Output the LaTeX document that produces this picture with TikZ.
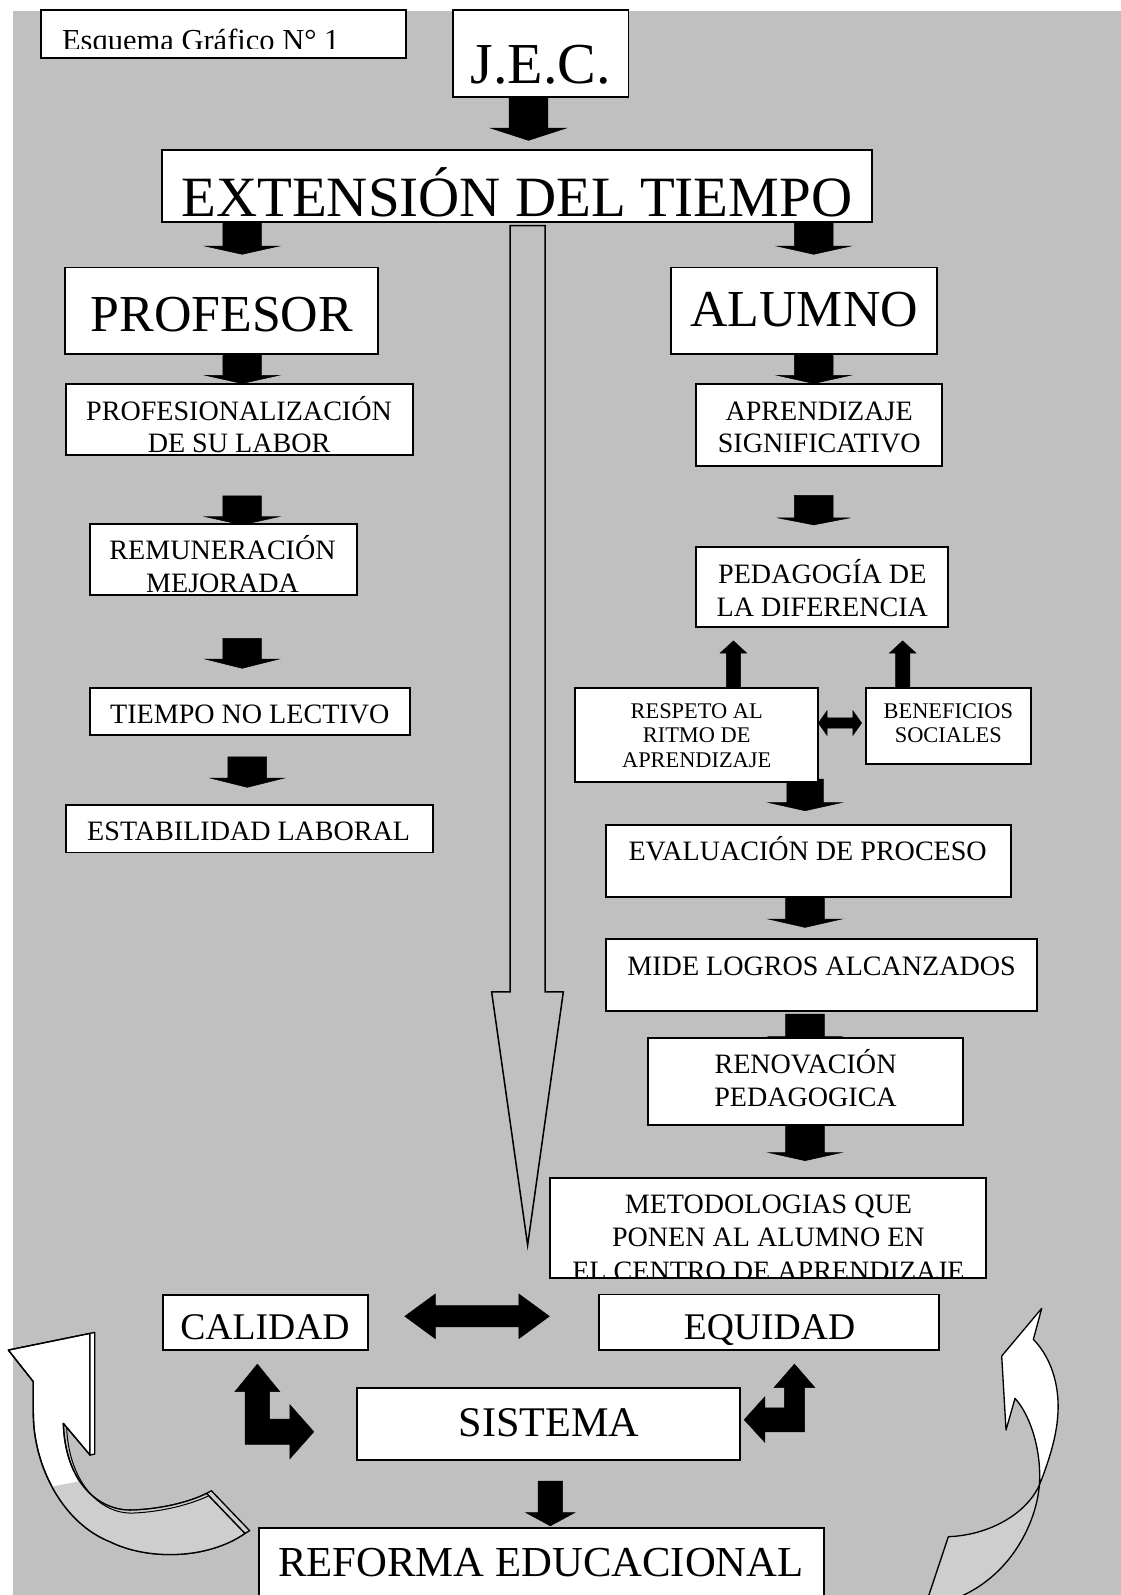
\documentclass[tikz,border=0pt]{standalone}
\usepackage{fontspec}
\setmainfont{Liberation Serif}
\usetikzlibrary{fit}
\definecolor{bggray}{RGB}{192,192,192}
\definecolor{bandgray}{RGB}{206,206,206}
\tikzset{
  box/.style={draw=black, fill=white, line width=1.8pt, inner sep=0pt, outer sep=0pt},
  lbl/.style={anchor=base, inner sep=0pt, outer sep=0pt, text=black},
  blockarrow/.style={fill=black, draw=black, line width=0.5pt, line join=miter},
  hollowarrow/.style={fill=bggray, draw=black, line width=1.5pt, line join=miter},
  curvedarrow/.style={fill=white, draw=black, line width=1.3pt, line join=round},
  bandfill/.style={fill=bandgray},
}
\newcommand{\fs}[1]{\fontsize{#1}{#1}\selectfont}
% vertical block arrow: cx, y tail, y head base, y tip, half shaft, half head
\newcommand{\vblock}[6]{\path[blockarrow] ({#1-#5},#2) -- ({#1+#5},#2) -- ({#1+#5},#3) -- ({#1+#6},#3) -- (#1,#4) -- ({#1-#6},#3) -- ({#1-#5},#3) -- cycle;}
% horizontal double block arrow: x1, x2, cy, head length, half shaft, half head
\newcommand{\hdouble}[6]{\path[blockarrow] (#1,#3) -- ({#1+#4},{#3-#6}) -- ({#1+#4},{#3-#5}) -- ({#2-#4},{#3-#5}) -- ({#2-#4},{#3-#6}) -- (#2,#3) -- ({#2-#4},{#3+#6}) -- ({#2-#4},{#3+#5}) -- ({#1+#4},{#3+#5}) -- ({#1+#4},{#3+#6}) -- cycle;}
\begin{document}
\begin{tikzpicture}[x=1pt,y=-1pt]
\useasboundingbox (0,0) rectangle (1102,1568);
\clip (0,0) rectangle (1102,1568);
\fill[white] (0,0) rectangle (1102,1568);
\fill[bggray] (13,10.8) rectangle (1102,1568);

% ---------- left curved arrow ----------
\begin{scope}[shift={(0,1258.36)}, x=0.3277pt, y=-0.3277pt]
  \def\leftarr{(25,210) -- (270,160) -- (270,525) -- (190,430) .. controls (195,600) and (290,695) .. (400,690) .. controls (490,686) and (570,665) .. (620,640) -- (735,760) .. controls (620,840) and (440,840) .. (330,785) .. controls (190,730) and (100,560) .. (100,400) -- (100,305) -- cycle}
  \path[curvedarrow] \leftarr;
  \begin{scope}
    \clip \leftarr;
    \fill[bandfill] (100,630) -- (260,600) -- (800,600) -- (800,900) -- (100,900) -- cycle;
  \end{scope}
  \path[curvedarrow, fill=none] \leftarr;
  \path[curvedarrow] (270,160) -- (284,157) -- (284,522) -- (270,525) -- cycle;
  \path[curvedarrow, fill=bandgray] (620,640) -- (634,632) -- (749,752) -- (735,760) -- cycle;
  \draw[line width=1pt] (200,442) .. controls (206,600) and (295,703) .. (400,699) .. controls (490,695) and (570,673) .. (625,648);
\end{scope}

% ---------- right curved arrow ----------
\begin{scope}[shift={(747.15,1258.36)}, x=0.3277pt, y=-0.3277pt]
  \path[curvedarrow, fill=bandgray] (838,615) .. controls (830,720) and (760,880) .. (600,950) -- (505,950) -- (565,770) .. controls (690,765) and (800,700) .. (838,615) -- cycle;
  \path[curvedarrow] (845,85) -- (820,178) .. controls (880,240) and (900,330) .. (893,410) .. controls (888,480) and (860,560) .. (838,615) .. controls (845,520) and (815,410) .. (765,355) -- (738,450) -- (725,228) -- cycle;
\end{scope}

% ---------- long hollow arrow ----------
\path[hollowarrow] (501.4,221.7) -- (535.8,221.7) -- (535.8,975) -- (553.8,975) -- (518.7,1224) -- (483.3,975) -- (501.4,975) -- cycle;

% ---------- block arrows ----------
\vblock{519.5}{95}{126}{138}{19}{37}
\vblock{238}{219}{242}{250}{19}{36}
\vblock{800}{219}{242}{250}{19}{36}
\vblock{238}{348}{369}{377}{19}{36}
\vblock{800}{348}{369}{377}{19}{36}
\vblock{238}{487.5}{508}{516}{19}{36}
\vblock{800}{487}{509}{516}{19}{36}
\vblock{238}{627.5}{648}{657}{19}{36}
\vblock{243}{744}{765}{774}{19}{36}
\vblock{791.5}{766}{789}{797}{18}{36}
\vblock{791.4}{881.5}{903.5}{911.7}{19}{36}
\vblock{791.4}{997}{1019}{1027}{19}{36}
\vblock{791.4}{1106}{1133}{1141}{19}{36}
\vblock{541}{1456}{1487}{1500}{12}{24}
\vblock{721}{677}{642}{630}{7}{13}
\vblock{887.4}{677}{642}{630}{7}{13}
\hdouble{804.5}{847}{710.8}{8.5}{5}{12}
\hdouble{398}{540}{1294}{30}{10.5}{22}
% L-shaped arrows
\path[blockarrow] (253,1341) -- (275,1368) -- (265,1368) -- (265,1395) -- (285,1395) -- (285,1381) -- (308.5,1407.5) -- (285,1434) -- (285,1420) -- (241,1420) -- (241,1368) -- (231,1368) -- cycle;
\path[blockarrow] (781,1341) -- (801,1364) -- (791,1364) -- (791,1407.5) -- (752,1407.5) -- (752,1418) -- (731.6,1395.7) -- (752,1373) -- (752,1384) -- (771,1384) -- (771,1364) -- (761,1364) -- cycle;

% ---------- boxes ----------
\node[box, fit={(40.1,9.8) (399.3,57.3)}] (esq) {};
\node[box, fit={(445.6,9.8) (617.8,95)}] (jec) {};
\node[box, fit={(159.3,147.5) (857,217.9)}] (ext) {};
\node[box, fit={(64,263) (372,348)}] (prof) {};
\node[box, fit={(660,263) (920.8,348)}] (alu) {};
\node[box, fit={(64.6,377.5) (406,447.3)}] (profes) {};
\node[box, fit={(684,377.5) (926,458)}] (apr) {};
\node[box, fit={(88.5,515.5) (350.7,585)}] (remun) {};
\node[box, fit={(684,538) (932.3,616)}] (ped) {};
\node[box, fit={(88.5,676.7) (403,722.6)}] (tiempo) {};
\node[box, fit={(565.3,676.7) (803.9,768.5)}] (resp) {};
\node[box, fit={(851.4,676.7) (1013.2,751)}] (benef) {};
\node[box, fit={(64.6,791.5) (425.7,838)}] (estab) {};
\node[box, fit={(595.7,811) (993.6,881.5)}] (eval) {};
\node[box, fit={(595.7,923.4) (1019.8,993.5)}] (mide) {};
\node[box, fit={(637.4,1020.1) (947,1106)}] (renov) {};
\node[box, fit={(541,1158.4) (969,1256.7)}] (metod) {};
\node[box, fit={(160,1273) (362,1327)}] (cal) {};
\node[box, fit={(588.8,1272.5) (923.3,1327)}] (equ) {};
\node[box, fit={(350.6,1364.2) (727.6,1435.3)}] (sis) {};
\node[box, fit={(255,1502) (810,1600)}] (ref) {};

% ---------- texts ----------
\begin{scope}
  \clip (40.1,9.8) rectangle (399.3,47.5);
  \node[lbl, anchor=base west, font=\fs{30}] (esq-t) at (61,49.5) {Esquema Gráfico N° 1};
\end{scope}
\node[lbl, font=\fs{57}] (jec-t) at (531.7,82) {J.E.C.};
\node[lbl, font=\fs{56}] (ext-t) at (508,213) {EXTENSIÓN DEL TIEMPO};
\node[lbl, font=\fs{51}] (prof-t) at (218,326) {PROFESOR};
\node[lbl, font=\fs{51}] (alu-t) at (790.5,320.5) {ALUMNO};
\begin{scope}
  \clip (profes.south west) rectangle (profes.north east);
  \node[lbl, font=\fs{27.6}] (profes-t1) at (235,412.9) {PROFESIONALIZACIÓN};
  \node[lbl, font=\fs{27.6}] (profes-t2) at (235,445) {DE SU LABOR};
\end{scope}
\begin{scope}
  \clip (remun.south west) rectangle (remun.north east);
  \node[lbl, font=\fs{27.6}] (remun-t1) at (218.8,550.5) {REMUNERACIÓN};
  \node[lbl, font=\fs{27.6}] (remun-t2) at (218.8,582.3) {MEJORADA};
\end{scope}
\node[lbl, font=\fs{27.6}] (tiempo-t) at (245.5,711.1) {TIEMPO NO LECTIVO};
\node[lbl, font=\fs{27.6}] (estab-t) at (244.5,826.5) {ESTABILIDAD LABORAL};
\node[lbl, font=\fs{27.6}] (apr-t1) at (805.3,413) {APRENDIZAJE};
\node[lbl, font=\fs{27.6}] (apr-t2) at (805.3,444.7) {SIGNIFICATIVO};
\node[lbl, font=\fs{27.6}] (ped-t1) at (808.4,573.5) {PEDAGOGÍA DE};
\node[lbl, font=\fs{27.6}] (ped-t2) at (808.4,606.2) {LA DIFERENCIA};
\node[lbl, font=\fs{22}] (resp-t1) at (684.9,706) {RESPETO AL};
\node[lbl, font=\fs{22}] (resp-t2) at (684.9,729.8) {RITMO DE};
\node[lbl, font=\fs{22}] (resp-t3) at (684.9,754.7) {APRENDIZAJE};
\node[lbl, font=\fs{22}] (benef-t1) at (932.3,706.5) {BENEFICIOS};
\node[lbl, font=\fs{22}] (benef-t2) at (932.3,729.8) {SOCIALES};
\node[lbl, font=\fs{27.6}] (eval-t) at (794,846.4) {EVALUACIÓN DE PROCESO};
\node[lbl, font=\fs{27.6}] (mide-t) at (807.7,958.5) {MIDE LOGROS ALCANZADOS};
\node[lbl, font=\fs{27.6}] (renov-t1) at (791.9,1055.2) {RENOVACIÓN};
\node[lbl, font=\fs{27.6}] (renov-t2) at (791.9,1087.3) {PEDAGOGICA};
\begin{scope}
  \clip (metod.south west) rectangle (metod.north east);
  \node[lbl, font=\fs{27.6}] (metod-t1) at (755.4,1192.8) {METODOLOGIAS QUE};
  \node[lbl, font=\fs{27.6}] (metod-t2) at (755.4,1225.6) {PONEN AL ALUMNO EN};
  \node[lbl, font=\fs{27.6}] (metod-t3) at (755.4,1258.6) {EL CENTRO DE APRENDIZAJE};
\end{scope}
\node[lbl, font=\fs{37}] (cal-t) at (260.5,1316.5) {CALIDAD};
\begin{scope}
  \clip (equ.south west) rectangle (equ.north east);
  \node[lbl, font=\fs{37}] (equ-t) at (756.5,1316.5) {EQUIDAD};
\end{scope}
\node[lbl, font=\fs{41.5}] (sis-t) at (539.8,1412.4) {SISTEMA};
\node[lbl, font=\fs{42}] (ref-t) at (531.8,1550) {REFORMA EDUCACIONAL};
\end{tikzpicture}
\end{document}
